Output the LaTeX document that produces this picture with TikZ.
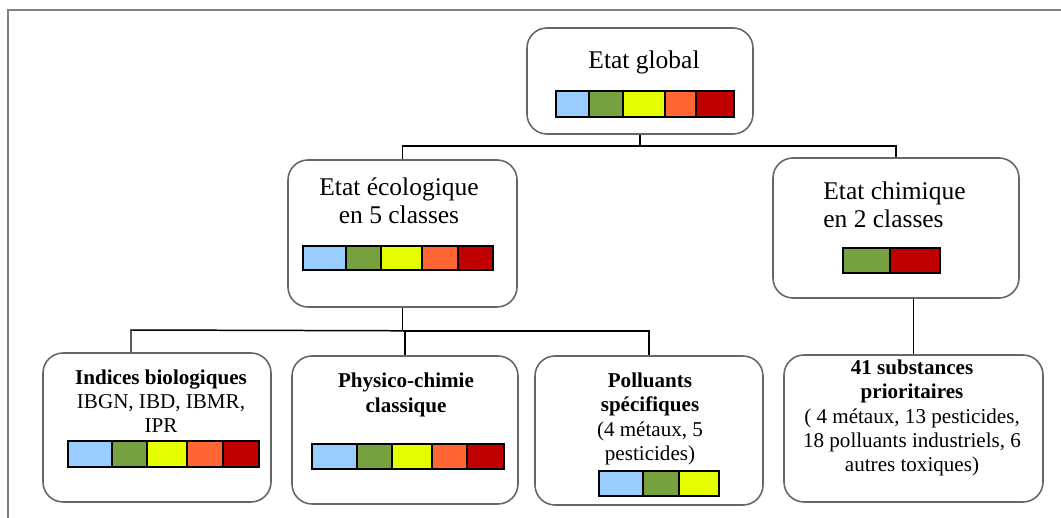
\documentclass[tikz,border=0pt]{standalone}
\usepackage{fontspec}
\setmainfont{Liberation Serif}
\usetikzlibrary{fit, positioning}

\definecolor{qblue}{HTML}{99CCFF}
\definecolor{qgreen}{HTML}{77A03F}
\definecolor{qyellow}{HTML}{E6FF00}
\definecolor{qorange}{HTML}{FF6633}
\definecolor{qred}{HTML}{C00000}

\newcommand{\qualitybar}[3]{%
  \foreach \xa/\xb/\col in {#3}
    \draw[cell,fill=\col] (\xa,#1) rectangle (\xb,#2);
}

\begin{document}
\begin{tikzpicture}[x=0.2mm,y=-0.2mm,
    box/.style={draw=black!60,line width=0.9pt,rounded corners=4mm,inner sep=0pt},
    big/.style={font=\fontsize{14.5}{16}\selectfont,align=center,inner sep=0pt},
    small/.style={font=\fontsize{12}{13.8}\selectfont,align=center,inner sep=0pt},
    cell/.style={draw=black,line width=0.7pt},
    link/.style={draw=black,line width=0.85pt},
    frame/.style={draw=black!50,line width=0.8pt}]
    \useasboundingbox (0,0) rectangle (1061,518);
    \draw[frame] (8,518) -- (8,10) -- (1061,10);

    \node[box,fit={(527,28) (753,134)}] (global) {};
    \node[box,fit={(288,160) (517,307)}] (eco) {};
    \node[box,fit={(773,158) (1019,298)}] (chem) {};
    \node[box,fit={(43,353) (271,502)}] (bio) {};
    \node[box,fit={(292,356) (518,504)}] (phys) {};
    \node[box,fit={(535,356) (763,505)}] (poll) {};
    \node[box,fit={(784,355) (1043,502)}] (subst) {};

    \node[big] (global_txt) at (644,62) {Etat global};
    \node[big] (eco_txt) at (399,201) {Etat écologique\\en 5 classes};
    \node[big,align=left,anchor=west] (chem_txt) at (823,205) {Etat chimique\\en 2 classes};
    \node[small] (bio_txt) at (161,401) {\textbf{Indices biologiques}\\IBGN, IBD, IBMR,\\IPR};
    \node[small] (phys_txt) at (406,395) {\textbf{Physico-chimie}\\\textbf{classique}};
    \node[small] (poll_txt) at (650,419) {\textbf{Polluants}\\\textbf{spécifiques}\\(4 métaux, 5\\pesticides)};
    \node[small] (subst_txt) at (912,418) {\textbf{41 substances}\\\textbf{prioritaires}\\( 4 métaux, 13 pesticides,\\18 polluants industriels, 6\\autres toxiques)};

    \qualitybar{91}{117}{556/589/qblue,589/623/qgreen,623/665/qyellow,665/696/qorange,696/734/qred}
    \qualitybar{246}{270}{303/346/qblue,346/381/qgreen,381/422/qyellow,422/458/qorange,458/493/qred}
    \qualitybar{248}{273}{843/890/qgreen,890/940/qred}
    \qualitybar{441}{467}{68/112/qblue,112/147/qgreen,147/187/qyellow,187/223/qorange,223/259/qred}
    \qualitybar{444}{469}{312/357/qblue,357/392/qgreen,392/432/qyellow,432/467/qorange,467/504/qred}
    \qualitybar{471}{496}{599/643/qblue,643/679/qgreen,679/719/qyellow}

    \draw[link] (global.south) -- ++(0,11) coordinate (top_split);
    \draw[link] (eco.north) |- (top_split) -| (chem.north);
    \draw[link] (eco.south) -- ++(0,23) coordinate (eco_split);
    \coordinate (bio_drop) at (131,330);
    \draw[link] (eco_split) -- (bio_drop) -- (bio_drop |- bio.north);
    \draw[link] (eco_split) -| (phys.north);
    \draw[link] (eco_split) -| (poll.north);
    \draw[link] (subst.north |- chem.south) -- (subst.north);
\end{tikzpicture}
\end{document}
